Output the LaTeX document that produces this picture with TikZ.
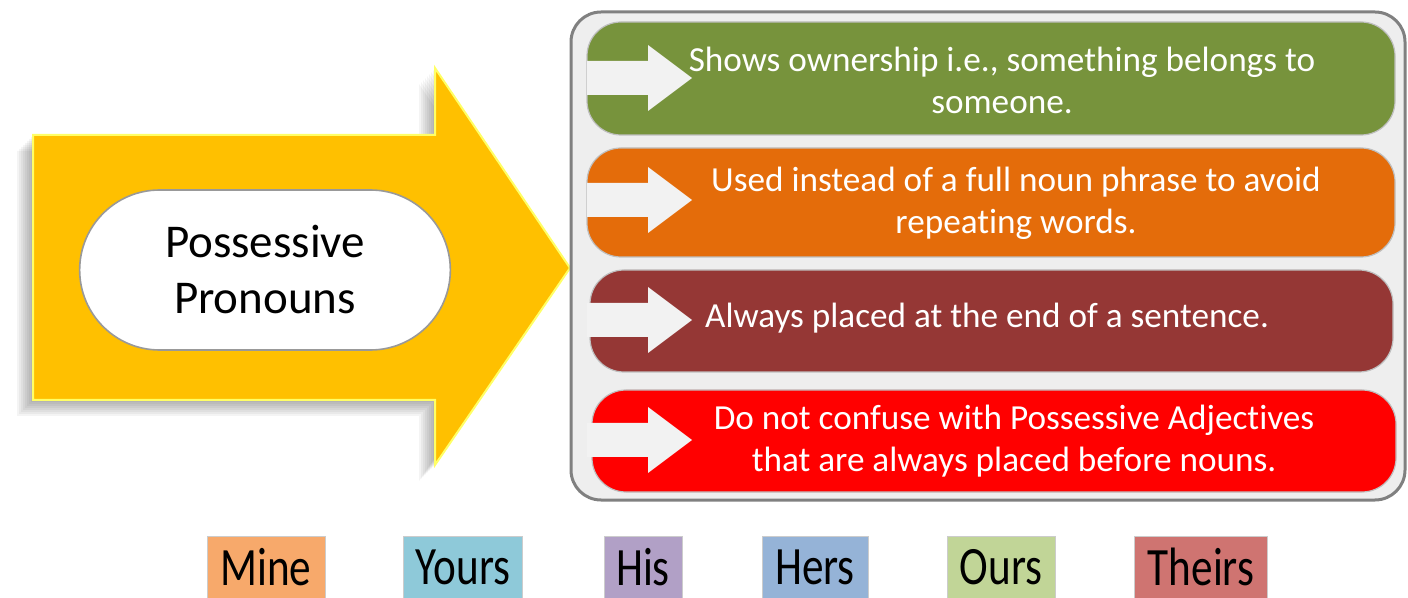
\documentclass[tikz,border=0pt]{standalone}
\usepackage{fontspec}
\setmainfont[Ligatures=NoCommon]{Carlito}
\usepackage{graphicx}
\usetikzlibrary{shapes.misc}
\definecolor{nuoli}{HTML}{FFC000}
\definecolor{reuna}{HTML}{FFFF66}
\definecolor{paneeli}{HTML}{EEEEEE}
\definecolor{vihrea}{HTML}{77933C}
\definecolor{oranssi}{HTML}{E46C0A}
\definecolor{ruskea}{HTML}{953735}
\definecolor{punainen}{HTML}{FF0000}
\definecolor{minec}{HTML}{F7A96B}
\definecolor{yoursc}{HTML}{8EC9D9}
\definecolor{hisc}{HTML}{B1A0C6}
\definecolor{hersc}{HTML}{95B3D7}
\definecolor{oursc}{HTML}{C1D597}
\definecolor{theirsc}{HTML}{CF7471}
\begin{document}
\begin{tikzpicture}[x=0.5pt, y=-0.5pt,
	pill/.style = {draw=black!40, line width=0.8pt, fill=white, rounded rectangle, minimum width=192pt, minimum height=80pt, align=center, font=\fontsize{23.5}{28}\selectfont},
	bar/.style = {rounded corners=17pt, draw=black!25, line width=0.6pt},
	bartext/.style = {text=white, align=center, font=\fontsize{17.6}{21}\selectfont},
	pienet/.style = {fill=white!95!black},
	word/.style = {draw=black!20, inner sep=0pt, minimum height=31pt, font=\fontsize{27}{30}\selectfont}]
	\useasboundingbox (0,0) rectangle (1408,598);
	% Iso nuoli
	\foreach \d in {2,4,...,16}
		\fill[black, opacity=0.045] (33-\d,135+\d) -- (435-\d,135+\d) -- (435-\d,68+\d) -- (570-\d,268+\d) -- (435-\d,465+\d) -- (435-\d,400+\d) -- (33-\d,400+\d) -- cycle;
	\filldraw[fill=nuoli, draw=reuna, line width=1pt] (33,135) -- (435,135) -- (435,68) -- (570,268) -- (435,465) -- (435,400) -- (33,400) -- cycle;
	\node[pill] (pp) at (265,270) {Possessive\\Pronouns};
	% Paneeli
	\filldraw[fill=paneeli, draw=black!50, line width=1.5pt, rounded corners=15pt] (571,12) rectangle (1405,500);
	% Palkit
	\filldraw[bar, fill=vihrea] (587,22) rectangle (1395,135);
	\filldraw[bar, fill=oranssi] (587,148) rectangle (1395,257);
	\filldraw[bar, fill=ruskea] (590,270) rectangle (1393,372);
	\filldraw[bar, fill=punainen] (592,390) rectangle (1396,492);
	% Pienet nuolet
	\foreach \c in {78,200,320,440}
		\fill[pienet] (587,\c-17) -- (648,\c-17) -- (648,\c-33) -- (692,\c) -- (648,\c+33) -- (648,\c+17) -- (587,\c+17) -- cycle;
	% Tekstit
	\node[bartext] (t1) at (1002,80) {Shows ownership i.e., something belongs to\\someone.};
	\node[bartext] (t2) at (1016,203) {Used instead of a full noun phrase to avoid\\repeating words.};
	\node[bartext] (t3) at (987,318) {Always placed at the end of a sentence.};
	\node[bartext] (t4) at (1014,441) {Do not confuse with Possessive Adjectives\\that are always placed before nouns.};
	% Sanat
	\node[word, fill=minec, minimum width=59pt] (mine) at (266,567) {\scalebox{0.8}[1]{Mine}};
	\node[word, fill=yoursc, minimum width=59.5pt] (yours) at (463,567) {\scalebox{0.8}[1]{Yours}};
	\node[word, fill=hisc, minimum width=39pt] (his) at (643,567) {\scalebox{0.8}[1]{His}};
	\node[word, fill=hersc, minimum width=53pt] (hers) at (815,567) {\scalebox{0.8}[1]{Hers}};
	\node[word, fill=oursc, minimum width=54pt] (ours) at (1001,567) {\scalebox{0.8}[1]{Ours}};
	\node[word, fill=theirsc, minimum width=66.5pt] (theirs) at (1201,567) {\scalebox{0.8}[1]{Theirs}};
\end{tikzpicture}
\end{document}
